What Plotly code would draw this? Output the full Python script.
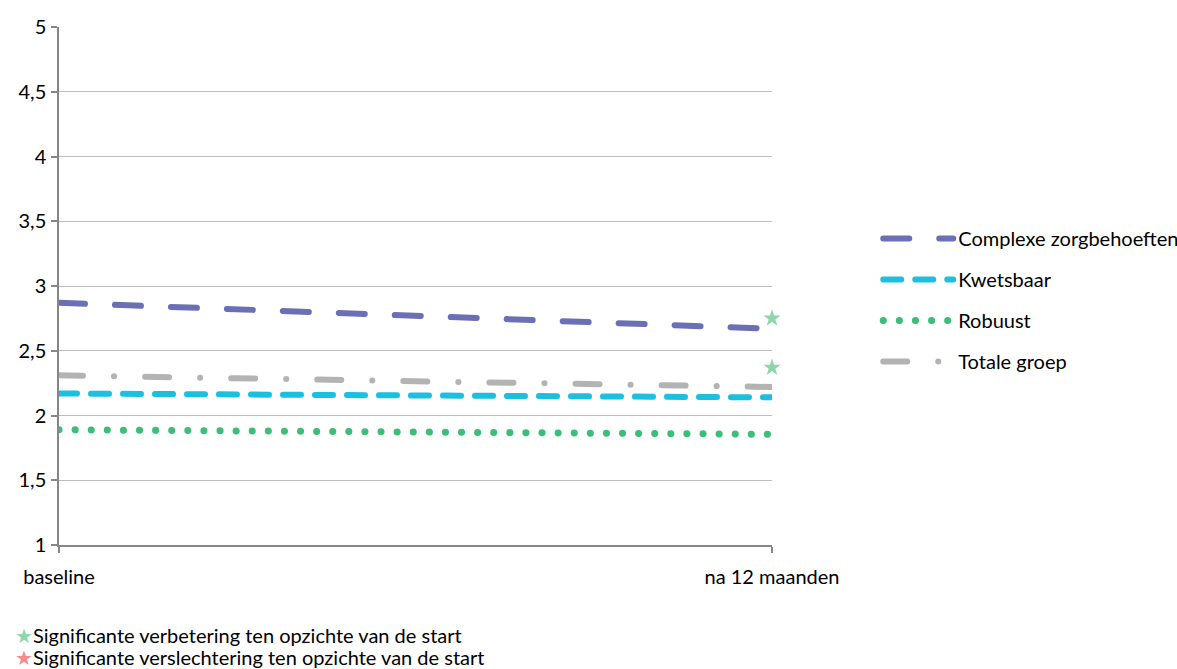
import plotly.graph_objects as go

categories = ["baseline", "na 12 maanden"]
complexe = [2.87, 2.67]
kwetsbaar = [2.17, 2.14]
robuust = [1.89, 1.855]
totale = [2.31, 2.22]
star_y = [2.75, 2.37]
y_ticks = [1, 1.5, 2, 2.5, 3, 3.5, 4, 4.5, 5]

FONT = "Lato"
FS = 20
fig = go.Figure()

series = [
    ("Complexe zorgbehoeften", complexe, "#6A6FB6", "26px,30px", 6),
    ("Kwetsbaar", kwetsbaar, "#1BBFE0", "18px,14px", 6),
    ("Robuust", robuust, "#3CBE78", "0.1px,16px", 7),
    ("Totale groep", totale, "#B3B3B3", "24px,31px,0.1px,31px", 6),
]
for i, (name, vals, col, dash, w) in enumerate(series):
    fig.add_trace(go.Scatter(
        x=categories, y=vals, mode="lines", name=name,
        legendgroup="g%d" % i,
        line=dict(color=col, width=w, dash=dash),
        hoverinfo="skip",
    ))

fig.add_trace(go.Scatter(
    x=[categories[1]] * len(star_y), y=star_y, mode="markers",
    marker=dict(symbol="star", size=13, color="rgba(110,205,150,0.8)",
                line=dict(width=0)),
    showlegend=False, cliponaxis=False, hoverinfo="skip",
))

fig.update_layout(
    width=1177, height=669,
    margin=dict(l=59, r=405, t=27, b=124, autoexpand=False),
    paper_bgcolor="white", plot_bgcolor="white",
    separators=",.",
    font=dict(family=FONT, size=FS, color="#000000"),
    showlegend=True,
    legend=dict(
        x=1.149, xanchor="left", y=0.473, yanchor="middle",
        font=dict(family=FONT, size=FS, color="#000000"),
        itemwidth=70, tracegroupgap=12, traceorder="grouped",
        bgcolor="rgba(0,0,0,0)",
    ),
    xaxis=dict(
        type="category", range=[0, 1], showgrid=False,
        showline=True, linecolor="#868686", linewidth=1.5,
        ticks="outside", ticklen=6, tickcolor="#868686", tickwidth=1.5,
        tickfont=dict(family=FONT, size=FS), ticklabelstandoff=7,
        zeroline=False,
    ),
    yaxis=dict(
        range=[1, 5], tickvals=y_ticks, showgrid=True, gridcolor="#BFBFBF",
        gridwidth=1, showline=True, linecolor="#868686", linewidth=1.5,
        ticks="outside", ticklen=6, tickcolor="#868686", tickwidth=1.5,
        tickfont=dict(family=FONT, size=FS), ticklabelstandoff=1, zeroline=False,
    ),
)

notes = [
    ("rgba(110,205,150,0.8)", "Significante verbetering ten opzichte van de start", -0.1737),
    ("rgba(240,110,110,0.8)", "Significante verslechtering ten opzichte van de start", -0.2162),
]
for col, txt, yy in notes:
    fig.add_annotation(
        xref="paper", yref="paper", x=-0.064, y=yy, xanchor="left", yanchor="middle",
        text='<span style="color:%s">★</span>%s' % (col, txt), showarrow=False,
        font=dict(family=FONT, size=FS, color="#000000"),
    )

post = ("var s=document.createElement('style');"
        "s.textContent='body{margin:0 !important;} .js-line{stroke-linecap:round !important;}';"
        "document.head.appendChild(s);")
fig.write_html("out.html", post_script=post, config={"displayModeBar": False})
